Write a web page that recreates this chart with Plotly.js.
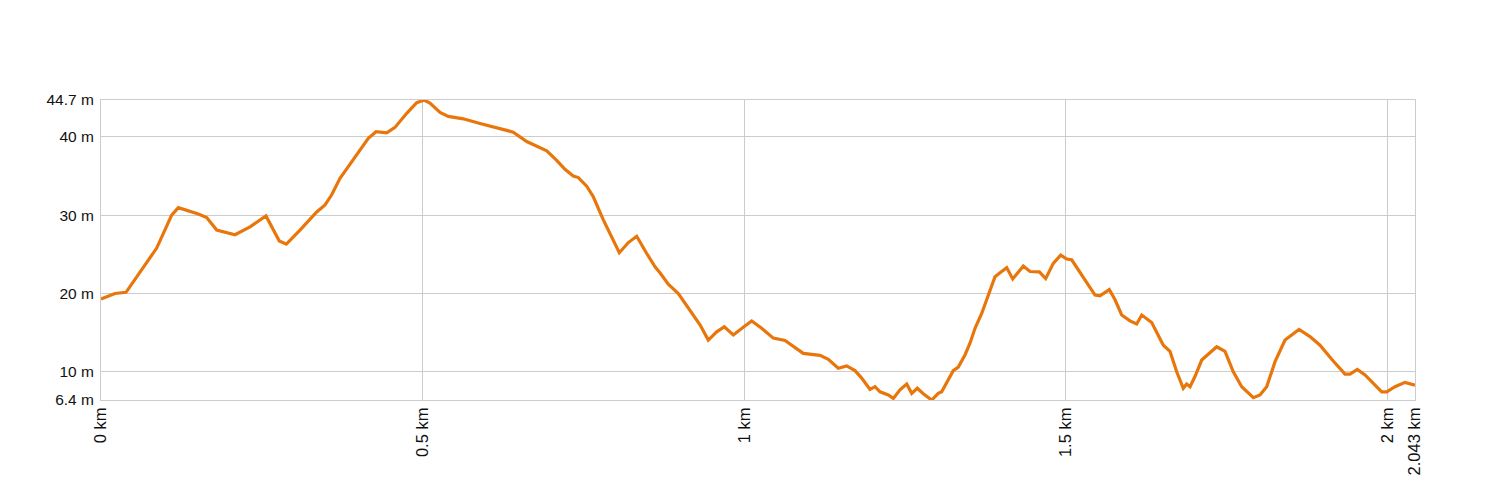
<!DOCTYPE html>
<html>
<head>
<meta charset="utf-8">
<script src="https://cdn.plot.ly/plotly-3.0.1.min.js"></script>
<style>html,body{margin:0;padding:0;background:#fff;}#chart{width:1500px;height:500px;}</style>
</head>
<body>
<div id="chart"></div>
<script>
const distanceKm = [0.000,0.0218,0.0389,0.0658,0.0866,0.1099,0.1202,0.1513,0.1643,0.1799,0.2083,0.2317,0.2565,0.2772,0.2881,0.3094,0.3354,0.3483,0.3587,0.3716,0.3898,0.4027,0.4156,0.4276,0.4442,0.4571,0.4753,0.4909,0.5022,0.5115,0.5271,0.5400,0.5633,0.5893,0.6152,0.6410,0.6619,0.6721,0.6930,0.7085,0.7214,0.7343,0.7421,0.7552,0.7654,0.7810,0.7914,0.8059,0.8199,0.8329,0.8485,0.8614,0.8691,0.8820,0.8976,0.9131,0.9313,0.9442,0.9573,0.9691,0.9831,0.9986,1.0117,1.0272,1.0453,1.0635,1.0764,1.0919,1.1179,1.1308,1.1463,1.1594,1.1723,1.1827,1.1956,1.2034,1.2112,1.2241,1.2319,1.2423,1.2527,1.2605,1.2692,1.2785,1.2916,1.3018,1.3071,1.3149,1.3251,1.3329,1.3433,1.3511,1.3589,1.3693,1.3796,1.3900,1.3978,1.4082,1.4175,1.4262,1.4340,1.4444,1.4589,1.4688,1.4806,1.4921,1.5015,1.5092,1.5222,1.5326,1.5455,1.5532,1.5677,1.5766,1.5870,1.5999,1.6103,1.6181,1.6336,1.6517,1.6621,1.6725,1.6827,1.6880,1.6932,1.7009,1.7114,1.7347,1.7476,1.7605,1.7736,1.7916,1.8020,1.8124,1.8254,1.8409,1.8627,1.8797,1.8953,1.9135,1.9342,1.9419,1.9533,1.9653,1.9912,1.9990,2.0119,2.0274,2.043];
const elevationM = [19.3,20.0,20.15,23.4,25.8,30.0,30.95,30.15,29.7,28.1,27.5,28.5,29.9,26.7,26.3,28.1,30.4,31.3,32.6,34.7,36.8,38.3,39.8,40.65,40.5,41.2,43.0,44.35,44.7,44.3,43.1,42.6,42.3,41.7,41.1,40.6,39.4,39.0,38.2,37.0,35.85,35.0,34.8,33.7,32.35,29.4,27.7,25.2,26.5,27.3,25.1,23.4,22.65,21.2,20.0,18.1,16.0,14.05,15.1,15.75,14.7,15.7,16.5,15.55,14.3,14.0,13.2,12.35,12.1,11.6,10.45,10.75,10.15,9.2,7.75,8.1,7.45,7.05,6.6,7.7,8.45,7.25,7.9,7.2,6.4,7.25,7.45,8.7,10.15,10.6,12.15,13.65,15.55,17.45,19.8,22.15,22.65,23.3,21.85,22.8,23.5,22.8,22.75,21.9,23.85,24.9,24.4,24.3,22.65,21.5,19.8,19.7,20.5,19.2,17.25,16.5,16.1,17.25,16.3,13.4,12.6,10.0,7.9,8.45,8.1,9.4,11.5,13.2,12.6,10.0,8.1,6.7,7.05,8.1,11.3,14.05,15.4,14.5,13.4,11.6,9.7,9.7,10.3,9.6,7.45,7.45,8.1,8.65,8.3];

const xTickVals = [0, 0.5, 1, 1.5, 2, 2.043];
const xTickText = ["0 km", "0.5 km", "1 km", "1.5 km", "2 km", "2.043 km"];
const yTickVals = [6.4, 10, 20, 30, 40, 44.7];
const yTickText = ["6.4 m", "10 m", "20 m", "30 m", "40 m", "44.7 m"];

const yTickFont = {family: 'Liberation Sans', size: 15.5, color: '#111111'};
const xTickFont = {family: 'Liberation Sans', size: 16.5, color: '#111111'};

const trace = {
  x: distanceKm,
  y: elevationM,
  type: 'scatter',
  mode: 'lines',
  line: {color: '#e8760b', width: 3.2},
  hoverinfo: 'skip'
};

const layout = {
  width: 1500,
  height: 500,
  margin: {l: 101, r: 85, t: 100, b: 100, pad: 0},
  paper_bgcolor: '#ffffff',
  plot_bgcolor: '#ffffff',
  showlegend: false,
  font: yTickFont,
  xaxis: {
    range: [0, 2.043],
    tickmode: 'array',
    tickvals: xTickVals,
    ticktext: xTickText,
    tickangle: -90,
    tickfont: xTickFont,
    showgrid: true,
    gridcolor: '#cccccc',
    gridwidth: 1,
    zeroline: false,
    showline: true,
    linecolor: '#cccccc',
    linewidth: 1,
    mirror: true,
    ticks: '',
    fixedrange: true
  },
  yaxis: {
    range: [6.4, 44.7],
    tickmode: 'array',
    tickvals: yTickVals,
    ticktext: yTickText,
    tickfont: yTickFont,
    ticklabelstandoff: 3,
    showgrid: true,
    gridcolor: '#cccccc',
    gridwidth: 1,
    zeroline: false,
    showline: true,
    linecolor: '#cccccc',
    linewidth: 1,
    mirror: true,
    ticks: '',
    fixedrange: true
  }
};

Plotly.newPlot('chart', [trace], layout, {displayModeBar: false, staticPlot: true});
</script>
</body>
</html>
